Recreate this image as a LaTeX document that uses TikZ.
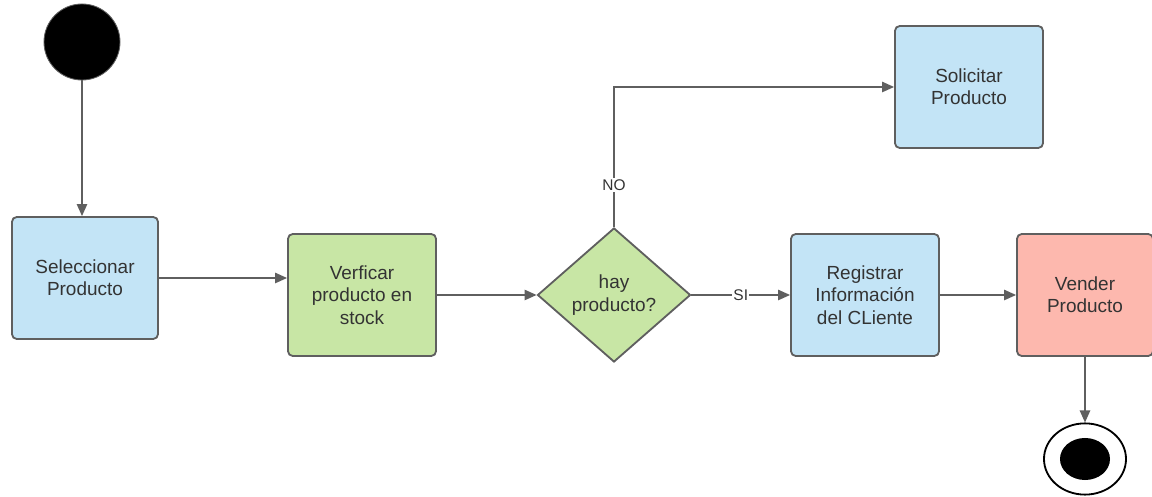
\documentclass[tikz,border=0pt]{standalone}
\usepackage{fontspec}
\setmainfont{Liberation Sans}
\usepackage{tikz}
\usetikzlibrary{arrows.meta,shapes.geometric}
\definecolor{actblue}{HTML}{C3E4F6}
\definecolor{actgreen}{HTML}{C8E6A5}
\definecolor{actred}{HTML}{FDB8AE}
\definecolor{edgegray}{HTML}{5F5F5F}
\definecolor{txtgray}{HTML}{333333}
\tikzset{
  act/.style={draw=edgegray, line width=1.3pt, rounded corners=1.2mm, align=center,
              minimum width=3.7cm, minimum height=3.05cm, text=txtgray,
              font=\fontsize{13.5}{15.8}\selectfont},
  dec/.style={draw=edgegray, line width=1.3pt, diamond, aspect=1.14, inner sep=0pt,
              fill=actgreen, minimum width=3.825cm, minimum height=3.35cm,
              align=center, text=txtgray, font=\fontsize{13.5}{15.8}\selectfont},
  initst/.style={circle, fill=black, draw=edgegray, line width=0.6pt, minimum size=1.9cm},
  finst/.style={ellipse, draw=black, line width=1.3pt, fill=white,
                minimum width=2.05cm, minimum height=1.78cm},
  finin/.style={ellipse, fill=black, minimum width=1.25cm, minimum height=1.05cm},
  flow/.style={draw=edgegray, line width=1pt, -{Triangle[length=3mm,width=2.6mm]}},
  guard/.style={fill=white, inner sep=1pt, text=txtgray, font=\fontsize{11}{13}\selectfont},
}

\begin{document}
\begin{tikzpicture}[x=0.025cm, y=-0.025cm]
  \useasboundingbox (0,0) rectangle (1152,497);

  \node[initst] (ini) at (82,42) {};
  \node[act, fill=actblue, minimum width=3.65cm] (sel) at (85,278) {Seleccionar\\Producto};
  \node[act, fill=actgreen] (verf) at (362,295) {Verficar\\producto en\\stock};
  \node[dec] (hay) at (614,295) {hay\\producto?};
  \node[act, fill=actblue] (reg) at (865,295) {Registrar\\Información\\del CLiente};
  \node[act, fill=actred, minimum width=3.4cm] (ven) at (1085,295) {Vender\\Producto};
  \node[act, fill=actblue] (sol) at (969,87) {Solicitar\\Producto};
  \node[finst] (fin) at (1085,459) {};
  \node[finin] (finc) at (fin) {};

  \draw[flow] (ini) -- (ini |- sel.north);
  \draw[flow] (sel.east) -- (sel.east -| verf.west);
  \draw[flow] (verf.east) -- (hay.west);
  \draw[flow] (hay.east) -- node[guard, pos=0.5]{SI} (reg.west);
  \draw[flow] (hay.north) |- node[guard, pos=0.15]{NO} (sol.west);
  \draw[flow] (reg.east) -- (ven.west);
  \draw[flow] (ven.south) -- (fin.north);
\end{tikzpicture}
\end{document}
